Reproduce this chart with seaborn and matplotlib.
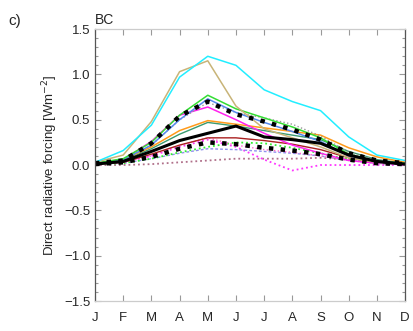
import matplotlib
matplotlib.use('Agg')
import matplotlib.pyplot as plt
import numpy as np
import pandas as pd
import seaborn as sns
from matplotlib.ticker import MultipleLocator

months = ['J', 'F', 'M', 'A', 'M', 'J', 'J', 'A', 'S', 'O', 'N', 'D']

cyan = [0.03, 0.16, 0.44, 0.97, 1.20, 1.10, 0.83, 0.70, 0.60, 0.31, 0.11, 0.05]
tan = [0.03, 0.11, 0.48, 1.03, 1.15, 0.65, 0.40, 0.30, 0.20, 0.08, 0.03, 0.01]
lime = [0.02, 0.07, 0.25, 0.55, 0.77, 0.62, 0.52, 0.42, 0.30, 0.12, 0.04, 0.02]
blue = [0.02, 0.06, 0.22, 0.50, 0.73, 0.58, 0.47, 0.37, 0.26, 0.10, 0.03, 0.01]
grey_dot = [0.02, 0.05, 0.22, 0.50, 0.69, 0.58, 0.52, 0.45, 0.32, 0.14, 0.05, 0.02]
mean_hi = [0.02, 0.05, 0.24, 0.54, 0.70, 0.56, 0.48, 0.39, 0.28, 0.13, 0.05, 0.02]
magenta = [0.02, 0.06, 0.26, 0.55, 0.64, 0.50, 0.35, 0.22, 0.13, 0.05, 0.02, 0.01]
orange = [0.02, 0.06, 0.20, 0.38, 0.49, 0.45, 0.41, 0.37, 0.33, 0.19, 0.09, 0.03]
teal = [0.02, 0.05, 0.18, 0.34, 0.47, 0.43, 0.38, 0.33, 0.28, 0.15, 0.06, 0.02]
black = [0.01, 0.04, 0.15, 0.27, 0.35, 0.43, 0.31, 0.28, 0.24, 0.11, 0.04, 0.01]
darkred = [0.01, 0.03, 0.12, 0.22, 0.30, 0.30, 0.27, 0.23, 0.17, 0.08, 0.03, 0.01]
pink_dot = [0.01, 0.03, 0.10, 0.22, 0.30, 0.22, 0.17, 0.14, 0.10, 0.05, 0.02, 0.01]
mean_lo = [0.01, 0.03, 0.09, 0.18, 0.25, 0.23, 0.19, 0.16, 0.12, 0.06, 0.02, 0.01]
green_dot = [0.01, 0.02, 0.07, 0.14, 0.20, 0.25, 0.24, 0.19, 0.13, 0.06, 0.02, 0.01]
lav_dash = [0.01, 0.02, 0.07, 0.13, 0.18, 0.17, 0.15, 0.13, 0.10, 0.05, 0.02, 0.01]
mag_dot = [0.01, 0.03, 0.10, 0.20, 0.28, 0.20, 0.06, -0.06, 0.00, 0.00, 0.00, 0.00]
rose_dot = [0.00, 0.00, 0.01, 0.03, 0.05, 0.07, 0.07, 0.07, 0.08, 0.06, 0.03, 0.01]

series = [
    (rose_dot, '#b0708a', ':', 1.3),
    (mag_dot, '#ff33ff', ':', 1.3),
    (lav_dash, '#9090ee', (0, (2, 1.5)), 1.0),
    (green_dot, '#33ee33', ':', 1.3),
    (pink_dot, '#ff66cc', ':', 1.0),
    (darkred, '#aa2020', '-', 1.0),
    (teal, '#3a9a70', '-', 1.0),
    (orange, '#ff9a1a', '-', 1.1),
    (magenta, '#ff22ee', '-', 1.1),
    (grey_dot, '#999999', ':', 1.0),
    (blue, '#5588ee', '-', 1.1),
    (lime, '#33dd33', '-', 1.1),
    (tan, '#c8b478', '-', 1.1),
    (cyan, '#22eeff', '-', 1.1),
    (black, 'black', '-', 2.2),
    (mean_hi, 'black', ':', 3.2),
    (mean_lo, 'black', ':', 3.2),
]

sns.set_style('white')
plt.rcParams['font.family'] = ['Liberation Sans Narrow', 'Liberation Sans', 'DejaVu Sans']

fig = plt.figure(figsize=(4.13, 3.31), dpi=100)
ax = fig.add_axes([0.23, 0.0906, 0.751, 0.8216])

x = np.arange(len(months))
for vals, col, ls, lw in series:
    df = pd.DataFrame({'month': x, 'rf': vals})
    sns.lineplot(data=df, x='month', y='rf', ax=ax, color=col, linestyle=ls, linewidth=lw)

ax.set_xlim(0, 11)
ax.set_ylim(-1.5, 1.5)
ax.set_xticks(x)
ax.set_xticklabels(months)
ax.yaxis.set_major_locator(MultipleLocator(0.5))
ax.yaxis.set_minor_locator(MultipleLocator(0.1))
ax.tick_params(axis='both', which='both', direction='in', bottom=True, left=True,
               top=True, right=True, color='#999999', width=0.8, labelsize=9.5)
ax.tick_params(axis='both', which='major', length=4)
ax.tick_params(axis='both', which='minor', length=2)
ax.tick_params(axis='x', pad=8)
ax.set_xlabel('')
ax.set_ylabel('Direct radiative forcing [Wm$^{-2}$]', fontsize=9.5, labelpad=3)
for side in ['left', 'right']:
    ax.spines[side].set_color('#555555')
    ax.spines[side].set_linewidth(0.9)
for side in ['top', 'bottom']:
    ax.spines[side].set_color('#cccccc')
    ax.spines[side].set_linewidth(0.9)

fig.text(0.02, 0.925, 'c)', fontsize=11)
ax.set_title('BC', loc='left', fontsize=10, pad=4)

fig.savefig('out.png', dpi=100)
